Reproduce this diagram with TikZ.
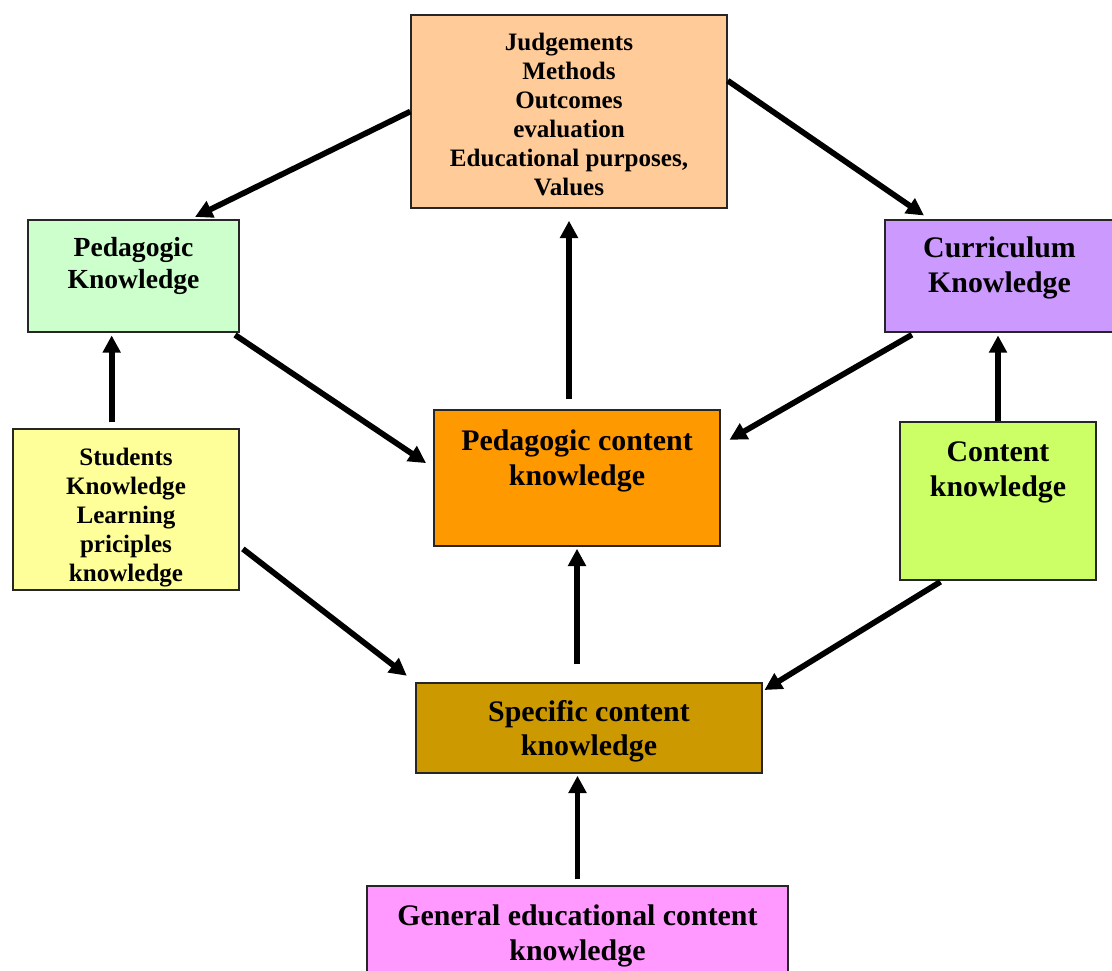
\documentclass[tikz,border=0pt]{standalone}
\usepackage{fontspec}
\setmainfont{Liberation Serif}
\usetikzlibrary{arrows.meta}

\definecolor{peach}{HTML}{FFCC99}
\definecolor{mint}{HTML}{CCFFCC}
\definecolor{lilac}{HTML}{CC99FF}
\definecolor{lemon}{HTML}{FFFF99}
\definecolor{amber}{HTML}{FF9900}
\definecolor{lime}{HTML}{CCFF66}
\definecolor{ochre}{HTML}{CC9900}
\definecolor{pinkish}{HTML}{FF99FF}

% text box: width, height, top padding, text
\newcommand{\boxtxt}[4]{\parbox[c][#2][t]{#1}{\centering\vspace*{#3}#4}}

\begin{document}
\begin{tikzpicture}[
  x=0.75pt, y=-0.75pt,
  box/.style={draw=black!85, line width=1.1pt, inner sep=0pt},
  big/.style={box, font=\bfseries\fontsize{22.4}{26.2}\selectfont},
  mid/.style={box, font=\bfseries\fontsize{20.7}{24}\selectfont},
  small/.style={box, font=\bfseries\fontsize{18.8}{21.75}\selectfont},
  arrow/.style={-{Triangle[length=13pt,width=13pt]}, line width=4.3pt}
]
\useasboundingbox (0,0) rectangle (1112,970);
\clip (0,0) rectangle (1112,970);

\node[small, fill=peach] (vals) at (569,111.5)
  {\boxtxt{237pt}{144.75pt}{13.5pt}{Judgements\\Methods\\Outcomes\\evaluation\\Educational purposes,\\Values}};
\node[mid, fill=mint] (pedk) at (133.5,276)
  {\boxtxt{158.25pt}{84pt}{12.75pt}{Pedagogic\\Knowledge}};
\node[big, fill=lilac] (curr) at (999.5,276)
  {\boxtxt{171.75pt}{84pt}{12.75pt}{Curriculum\\Knowledge}};
\node[small, fill=lemon] (stud) at (126,509.5)
  {\boxtxt{169.5pt}{120.75pt}{14.25pt}{Students\\Knowledge\\Learning\\priciples\\knowledge}};
\node[big, fill=amber] (pck) at (577,478)
  {\boxtxt{214.5pt}{102pt}{15pt}{Pedagogic content\\knowledge}};
\node[big, fill=lime] (cont) at (998,501)
  {\boxtxt{147pt}{118.5pt}{15pt}{Content\\knowledge}};
\node[big, fill=ochre] (spec) at (589,728)
  {\boxtxt{259.5pt}{67.5pt}{12.75pt}{Specific content\\knowledge}};
\node[big, fill=pinkish] (gen) at (577.5,933)
  {\boxtxt{315.75pt}{70.5pt}{14.25pt}{General educational content\\knowledge}};

% arrows
\draw[arrow, shorten >=4pt] (vals.west) -- (pedk.45);
\draw[arrow, shorten >=5pt] (vals.11) -- (curr.141);
\draw[arrow, shorten <=7.5pt, shorten >=9pt] (pck.north -| vals.south) -- (vals.south);
\draw[arrow, shorten <=3pt, shorten >=6.5pt] (pedk.-30) -- (pck.176);
\draw[arrow, shorten <=3pt, shorten >=7.5pt] (curr.214) -- (pck.13);
\draw[arrow, shorten <=4.5pt, shorten >=2pt] (stud.100) -- (stud.100 |- pedk.south);
\draw[arrow, shorten >=2pt] (cont.north) -- (curr.south -| cont.north);
\draw[arrow, shorten <=3pt, shorten >=8pt] (stud.-18) -- (spec.north west);
\draw[arrow, shorten <=1.5pt, shorten >=1.5pt] (cont.235) -- (spec.12);
\draw[arrow, shorten <=13.5pt, shorten >=1.5pt] (spec.north -| pck.south) -- (pck.south);
\draw[arrow, shorten <=4.5pt, shorten >=1.5pt] (gen.north) -- (gen.north |- spec.south);

\end{tikzpicture}
\end{document}
